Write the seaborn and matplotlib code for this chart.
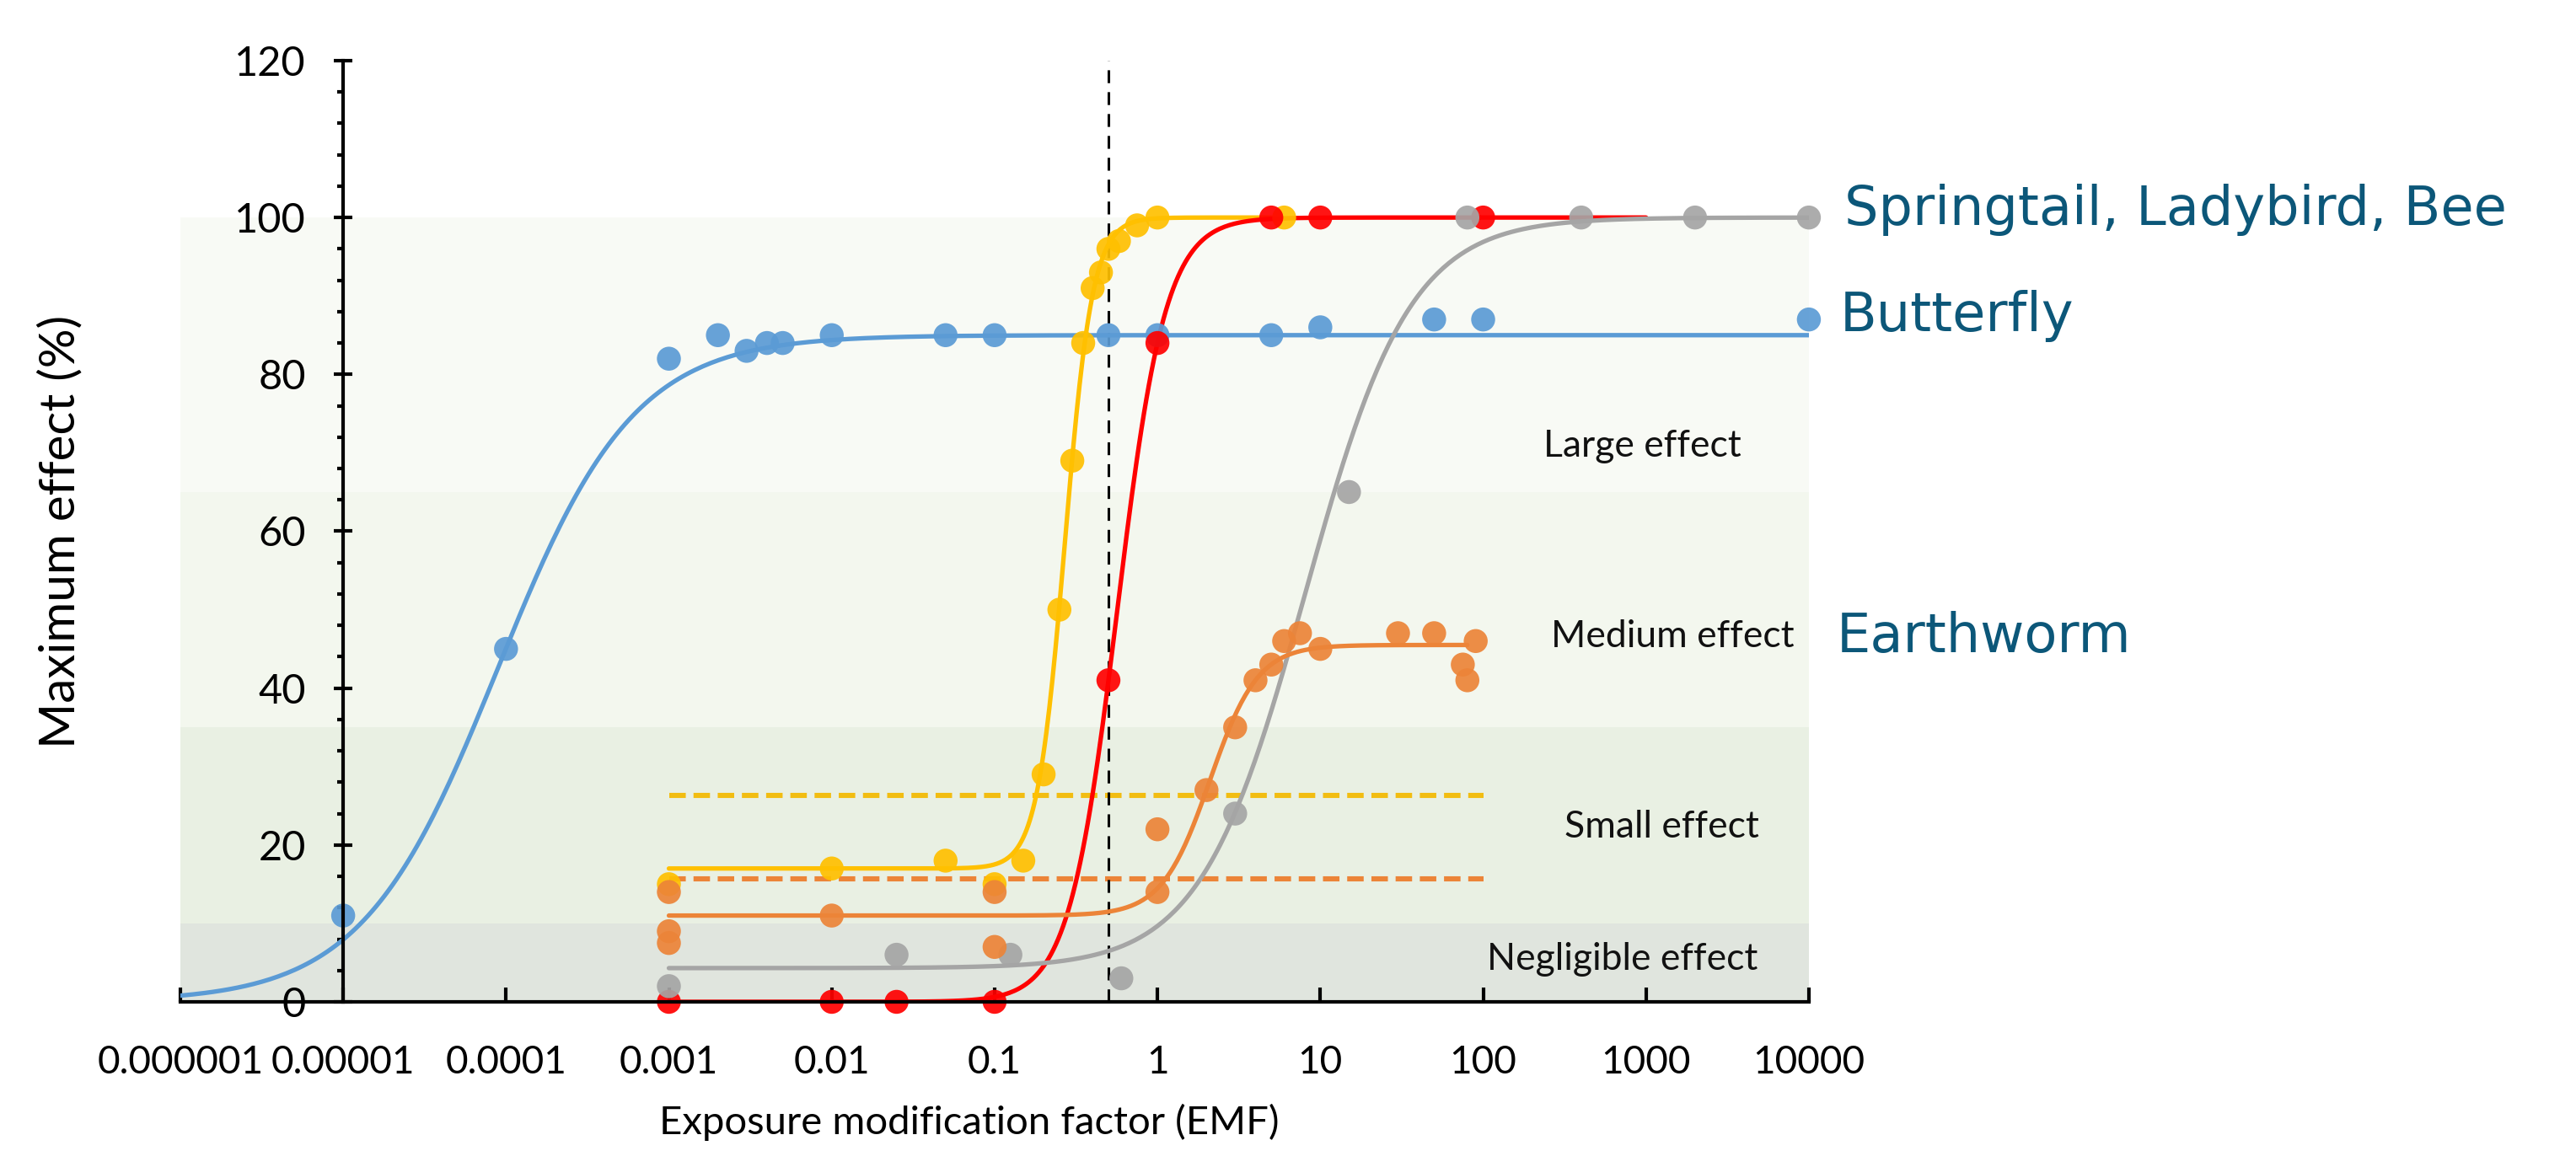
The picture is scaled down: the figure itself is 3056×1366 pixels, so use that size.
import numpy as np
import pandas as pd
import matplotlib
matplotlib.use("Agg")
import matplotlib.pyplot as plt
import seaborn as sns
from matplotlib.ticker import FixedLocator, FixedFormatter, MultipleLocator, NullLocator

butterfly_x = [1e-5, 1e-4, 0.001, 0.002, 0.003, 0.004, 0.005, 0.01, 0.05, 0.1, 0.5, 1, 5, 10, 50, 100, 10000]
butterfly_y = [11, 45, 82, 85, 83, 84, 84, 85, 85, 85, 85, 85, 85, 86, 87, 87, 87]

springtail_x = [0.001, 0.01, 0.05, 0.1, 0.15, 0.2, 0.25, 0.3, 0.35, 0.4, 0.45, 0.5, 0.58, 0.75, 1, 6]
springtail_y = [15, 17, 18, 15, 18, 29, 50, 69, 84, 91, 93, 96, 97, 99, 100, 100]

ladybird_x = [0.001, 0.01, 0.025, 0.1, 0.5, 1, 5, 10, 100]
ladybird_y = [0, 0, 0, 0, 41, 84, 100, 100, 100]

bee_x = [0.001, 0.025, 0.125, 0.6, 3, 15, 80, 400, 2000, 10000]
bee_y = [2, 6, 6, 3, 24, 65, 100, 100, 100, 100]

earthworm_x = [0.001, 0.001, 0.001, 0.01, 0.1, 0.1, 1, 1, 2, 3, 4, 5, 6, 7.5, 10, 30, 50, 75, 80, 90]
earthworm_y = [14, 9, 7.5, 11, 14, 7, 14, 22, 27, 35, 41, 43, 46, 47, 45, 47, 47, 43, 41, 46]

# --- fitted dose-response curves (bottom, top, EC50, slope, x range) ---
species = ["Butterfly", "Springtail", "Ladybird", "Bee", "Earthworm"]
curve_bottom = [0, 17, 0, 4.3, 11]
curve_top = [85, 100, 100, 100, 45.5]
curve_ec50 = [8.9e-5, 0.27, 0.567, 8.1, 2.1]
curve_slope = [1.04, 5.1, 2.92, 1.35, 2.95]
curve_start = [1e-6, 0.001, 0.001, 0.001, 0.001]
curve_end = [1e4, 5, 1000, 1e4, 80]

colors = {"Butterfly": "#5b9bd5", "Springtail": "#ffc000", "Ladybird": "#ff0000",
          "Bee": "#a5a5a5", "Earthworm": "#ec8438"}

# thresholds and reference line
threshold_y = [26.3, 15.7]
threshold_colors = ["#f2bd12", "#ec8438"]
threshold_range = [0.001, 100]
emf_ref = 0.5

# effect classes
band_edges = [0, 10, 35, 65, 100]
band_colors = ["#e0e5de", "#e9f0e3", "#f3f7ee", "#f8faf5"]
band_names = ["Negligible effect", "Small effect", "Medium effect", "Large effect"]
band_label_x = [720, 1250, 1450, 950]
band_label_y = [5.4, 22.3, 46.6, 70.8]

xtick_values = [1e-6, 1e-5, 1e-4, 1e-3, 1e-2, 0.1, 1, 10, 100, 1000, 10000]
xtick_labels = ["0.000001", "0.00001", "0.0001", "0.001", "0.01", "0.1", "1", "10", "100", "1000", "10000"]

group_labels = ["Springtail, Ladybird, Bee", "Butterfly", "Earthworm"]
group_label_x = [1.66e4, 1.55e4, 1.48e4]
group_label_y = [101, 87.5, 46.5]

pts = pd.concat([
    pd.DataFrame({"emf": butterfly_x, "effect": butterfly_y, "species": "Butterfly"}),
    pd.DataFrame({"emf": springtail_x, "effect": springtail_y, "species": "Springtail"}),
    pd.DataFrame({"emf": ladybird_x, "effect": ladybird_y, "species": "Ladybird"}),
    pd.DataFrame({"emf": bee_x, "effect": bee_y, "species": "Bee"}),
    pd.DataFrame({"emf": earthworm_x, "effect": earthworm_y, "species": "Earthworm"}),
], ignore_index=True)

curves = []
for sp, b, t, ec, h, x0, x1 in zip(species, curve_bottom, curve_top, curve_ec50, curve_slope, curve_start, curve_end):
    xx = np.logspace(np.log10(x0), np.log10(x1), 400)
    yy = b + (t - b) / (1 + 10 ** ((np.log10(ec) - np.log10(xx)) * h))
    curves.append(pd.DataFrame({"emf": xx, "effect": yy, "species": sp}))
curves = pd.concat(curves, ignore_index=True)

sns.set_theme(style="white")
plt.rcParams["font.family"] = ["Lato", "DejaVu Sans"]

fig = plt.figure(figsize=(15.28, 6.83), dpi=200)
ax = fig.add_axes([0.0700, 0.1296, 0.6322, 0.8177])
ax.set_xscale("log")
ax.set_xlim(1e-6, 1e4)
ax.set_ylim(0, 120)

for lo, hi, c in zip(band_edges[:-1], band_edges[1:], band_colors):
    ax.axhspan(lo, hi, color=c, lw=0, zorder=0)

for yv, c in zip(threshold_y, threshold_colors):
    ax.hlines(yv, threshold_range[0], threshold_range[1], colors=c, lw=2.2,
              linestyles=(0, (3.2, 1.5)), zorder=2)
ax.vlines(emf_ref, 0, 120, colors="black", lw=1.1, linestyles=(0, (5, 3.5)), zorder=2)

sns.lineplot(data=curves, x="emf", y="effect", hue="species", palette=colors,
             estimator=None, sort=False, lw=1.9, legend=False, ax=ax, zorder=3)
sns.scatterplot(data=pts, x="emf", y="effect", hue="species", palette=colors,
                s=105, linewidth=0, alpha=0.92, legend=False, clip_on=False, ax=ax, zorder=4)

for name, xv, yv in zip(band_names, band_label_x, band_label_y):
    ax.text(xv, yv, name, ha="center", va="center", fontsize=16, color="#111111")

for name, xv, yv in zip(group_labels, group_label_x, group_label_y):
    ax.text(xv, yv, name, ha="left", va="center", fontsize=23, color="#0c5779",
            family="DejaVu Sans")

# axes styling
for s in ["top", "right"]:
    ax.spines[s].set_visible(False)
ax.spines["left"].set_position(("data", 1e-5))
ax.spines["left"].set_bounds(0, 120)
for s in ["left", "bottom"]:
    ax.spines[s].set_color("black")
    ax.spines[s].set_linewidth(1.5)
    ax.spines[s].set_zorder(5)

ax.xaxis.set_major_locator(FixedLocator(xtick_values))
ax.xaxis.set_major_formatter(FixedFormatter(xtick_labels))
ax.xaxis.set_minor_locator(NullLocator())
ax.yaxis.set_major_locator(MultipleLocator(20))
ax.yaxis.set_minor_locator(MultipleLocator(4))
ax.tick_params(axis="x", which="major", direction="in", length=6, width=1.5,
               pad=18.5, labelsize=16.5, colors="black", bottom=True)
ax.tick_params(axis="y", which="major", direction="inout", length=8, width=1.5,
               pad=12, labelsize=17.5, colors="black", left=True)
ax.tick_params(axis="y", which="minor", direction="out", length=2.5, width=1.5,
               colors="black", left=True)

ax.set_xlabel("Exposure modification factor (EMF)", fontsize=17, color="black")
ax.set_ylabel("Maximum effect (%)", fontsize=21, color="black")
ax.xaxis.set_label_coords(0.4845, -0.108)
ax.yaxis.set_label_coords(-0.060, 0.5)

fig.savefig("out.png", dpi=200)
